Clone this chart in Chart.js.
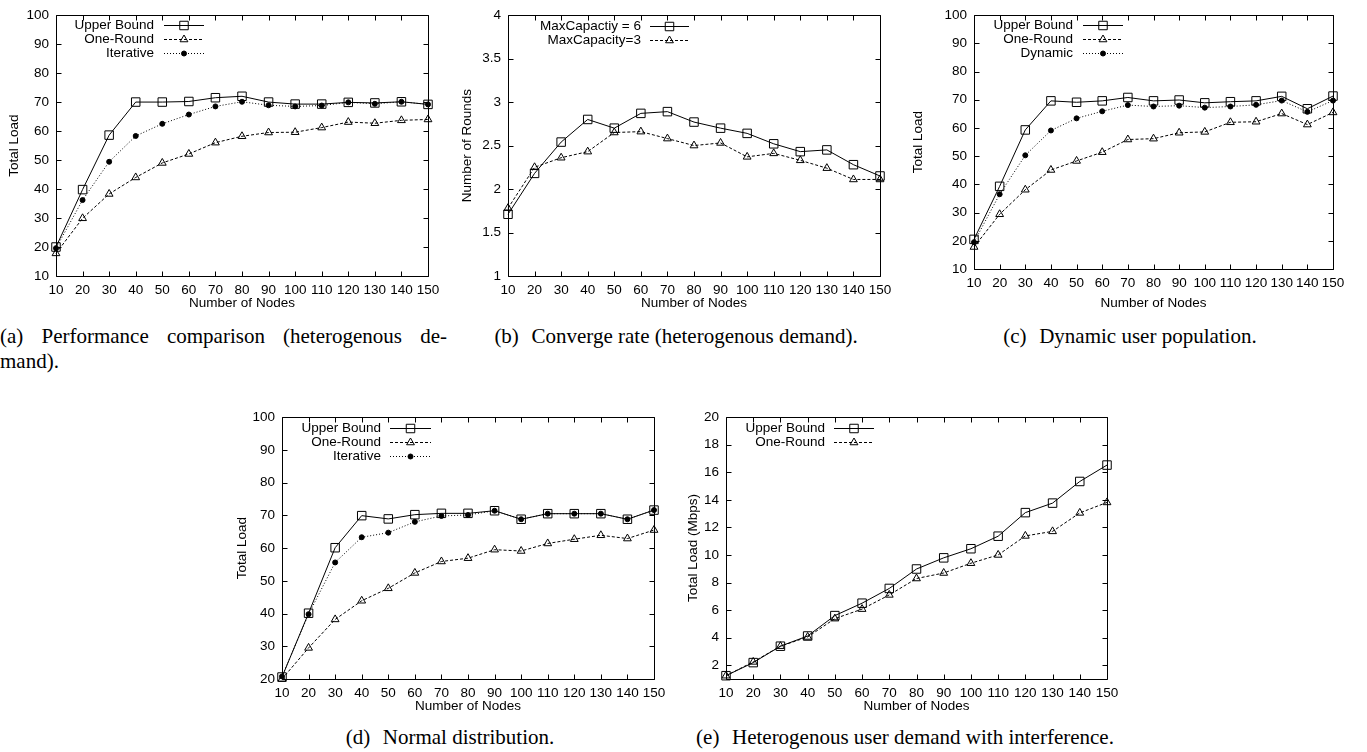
<!DOCTYPE html>
<html>
<head>
<meta charset="utf-8">
<script src="https://cdn.jsdelivr.net/npm/chart.js@4.4.0/dist/chart.umd.min.js"></script>
<style>
  body { margin: 0; background: #fff; width: 1367px; height: 752px; position: relative; overflow: hidden; }
  .plot { position: absolute; }
  .cap { position: absolute; font-family: "Liberation Serif", "Times New Roman", serif; font-size: 21px; line-height: 25px; color: #000; }
  .tag { margin-right: 0.35em; }
</style>
</head>
<body>
<div class="plot" style="left:6px;top:0px;width:442px;height:311px"><canvas id="chartA"></canvas></div>
<div class="plot" style="left:459px;top:0px;width:441px;height:311px"><canvas id="chartB"></canvas></div>
<div class="plot" style="left:910px;top:0px;width:443px;height:311px"><canvas id="chartC"></canvas></div>
<div class="plot" style="left:234px;top:402px;width:440px;height:312px"><canvas id="chartD"></canvas></div>
<div class="plot" style="left:685px;top:402px;width:442px;height:312px"><canvas id="chartE"></canvas></div>

<div class="cap" style="left:0px;top:324px;width:447px;text-align:justify;text-align-last:justify">(a) Performance comparison (heterogenous de-</div>
<div class="cap" style="left:0px;top:349px">mand).</div>
<div class="cap" style="left:426px;top:324px;width:500px;text-align:center"><span class="tag">(b)</span> Converge rate (heterogenous demand).</div>
<div class="cap" style="left:880px;top:324px;width:500px;text-align:center"><span class="tag">(c)</span> Dynamic user population.</div>
<div class="cap" style="left:200px;top:725px;width:500px;text-align:center"><span class="tag">(d)</span> Normal distribution.</div>
<div class="cap" style="left:655px;top:725px;width:500px;text-align:center"><span class="tag">(e)</span> Heterogenous user demand with interference.</div>

<script>
'use strict';

// x categories shared by all five panels
const nodes = ['10', '20', '30', '40', '50', '60', '70', '80', '90', '100', '110', '120', '130', '140', '150'];

// (a) performance comparison
const aUpper     = [20, 39.8, 58.6, 70, 70, 70.2, 71.5, 72, 70, 69.3, 69.3, 69.9, 69.7, 70.1, 69.2];
const aOneRound  = [17.8, 29.9, 38.3, 44, 49, 52.1, 56, 58.2, 59.5, 59.6, 61.2, 63.1, 62.7, 63.7, 64];
const aIterative = [19.6, 36.2, 49.4, 58.3, 62.5, 65.7, 68.5, 70.1, 68.9, 68.5, 68.8, 69.9, 69.4, 70.1, 69.2];

// (b) converge rate
const bCap6 = [1.71, 2.18, 2.54, 2.8, 2.7, 2.87, 2.89, 2.77, 2.7, 2.64, 2.52, 2.43, 2.45, 2.28, 2.15];
const bCap3 = [1.78, 2.25, 2.36, 2.43, 2.65, 2.66, 2.58, 2.5, 2.53, 2.37, 2.41, 2.33, 2.24, 2.11, 2.11];

// (c) dynamic user population
const cUpper    = [20.5, 39.3, 59.3, 69.6, 69.1, 69.6, 70.8, 69.6, 69.9, 68.9, 69.3, 69.6, 71.2, 66.8, 71.3];
const cOneRound = [17.8, 29.4, 38.1, 45.1, 48.3, 51.4, 55.9, 56.2, 58.3, 58.6, 62, 62.2, 65.1, 61.2, 65.5];
const cDynamic  = [19.5, 36.5, 50.3, 59.1, 63.4, 65.9, 68.1, 67.6, 67.9, 67.2, 67.6, 68.2, 69.7, 65.7, 69.7];

// (d) normal distribution
const dUpper     = [20.6, 40.1, 60.1, 69.9, 68.9, 70.2, 70.6, 70.6, 71.4, 68.8, 70.5, 70.5, 70.5, 68.8, 71.6];
const dOneRound  = [20, 29.5, 38.2, 43.9, 47.7, 52.4, 55.9, 56.9, 59.5, 59.1, 61.4, 62.7, 63.9, 62.9, 65.5];
const dIterative = [20.8, 39.8, 55.6, 63.3, 64.7, 68, 69.8, 70.1, 71.4, 68.8, 70.5, 70.5, 70.5, 68.8, 71.6];

// (e) heterogenous demand with interference
const eUpper    = [1.24, 2.19, 3.38, 4.12, 5.6, 6.5, 7.57, 8.98, 9.79, 10.45, 11.36, 13.07, 13.76, 15.33, 16.52];
const eOneRound = [1.24, 2.24, 3.38, 4.05, 5.38, 6.07, 7.1, 8.29, 8.69, 9.4, 10, 11.38, 11.71, 13.05, 13.81];

// y tick labels
const ticksLoad   = [10, 20, 30, 40, 50, 60, 70, 80, 90, 100];
const ticksRounds = [1, 1.5, 2, 2.5, 3, 3.5, 4];
const ticksLoadD  = [20, 30, 40, 50, 60, 70, 80, 90, 100];
const ticksMbps   = [2, 4, 6, 8, 10, 12, 14, 16, 18, 20];

Chart.defaults.font.family = '"Liberation Sans", Arial, sans-serif';
Chart.defaults.font.size   = 13.5;
Chart.defaults.color       = '#000';

// gnuplot-like line/point styles
var solidSquare  = { borderDash: [],     pointStyle: 'rect',     pointRadius: 6,   pointBackgroundColor: 'rgba(0,0,0,0)' };
var dashTriangle = { borderDash: [3, 2], pointStyle: 'triangle', pointRadius: 4.5, pointBackgroundColor: 'rgba(0,0,0,0)' };
var dotCircle    = { borderDash: [1, 2], pointStyle: 'circle',   pointRadius: 2.5, pointBackgroundColor: '#000' };

function series(label, values, style) {
  return {
    label               : label,
    data                : values,
    borderColor         : '#000',
    borderWidth         : 1,
    borderDash          : style.borderDash,
    pointStyle          : style.pointStyle,
    pointRadius         : style.pointRadius,
    pointBorderColor    : '#000',
    pointBorderWidth    : 1,
    pointBackgroundColor: style.pointBackgroundColor,
    tension             : 0,
    fill                : false,
    clip                : false
  };
}

// border box with inward ticks on all four sides
var frameBox = {
  id: 'frameBox',
  beforeDatasetsDraw: function (chart) {
    var ctx = chart.ctx, a = chart.chartArea, xs = chart.scales.x, ys = chart.scales.y, t = 5;
    var l = Math.round(a.left) + 0.5, r = Math.round(a.right) + 0.5;
    var top = Math.round(a.top) + 0.5, bot = Math.round(a.bottom) + 0.5;
    ctx.save();
    ctx.strokeStyle = '#000';
    ctx.lineWidth = 1;
    ctx.beginPath();
    ys.ticks.forEach(function (tk) {
      var py = Math.round(ys.getPixelForValue(tk.value)) + 0.5;
      ctx.moveTo(l, py); ctx.lineTo(l + t, py);
      ctx.moveTo(r, py); ctx.lineTo(r - t, py);
    });
    xs.ticks.forEach(function (tk, i) {
      var px = Math.round(xs.getPixelForTick(i)) + 0.5;
      ctx.moveTo(px, bot); ctx.lineTo(px, bot - t);
      ctx.moveTo(px, top); ctx.lineTo(px, top + t);
    });
    ctx.rect(l, top, r - l, bot - top);
    ctx.stroke();
    ctx.restore();
  }
};

// key drawn inside the plot, text right-aligned then a line sample with its marker
var insideKey = {
  id: 'insideKey',
  afterDatasetsDraw: function (chart, args, opts) {
    var ctx = chart.ctx, a = chart.chartArea;
    ctx.save();
    ctx.font = '13.5px "Liberation Sans", Arial, sans-serif';
    ctx.textAlign = 'right';
    ctx.textBaseline = 'middle';
    chart.data.datasets.forEach(function (ds, i) {
      var y = Math.round(a.top + opts.top + i * opts.gap) + 0.5;
      ctx.fillStyle = '#000';
      ctx.fillText(ds.label, a.left + opts.textRight, y);
      ctx.strokeStyle = '#000';
      ctx.lineWidth = 1;
      ctx.setLineDash(ds.borderDash);
      ctx.beginPath();
      ctx.moveTo(a.left + opts.lineStart, y);
      ctx.lineTo(a.left + opts.lineEnd, y);
      ctx.stroke();
      ctx.setLineDash([]);
      ctx.fillStyle = ds.pointBackgroundColor;
      Chart.helpers.drawPoint(ctx, { pointStyle: ds.pointStyle, radius: ds.pointRadius, rotation: 0, borderWidth: 1 },
        a.left + (opts.lineStart + opts.lineEnd) / 2, y);
    });
    ctx.restore();
  }
};

function makeChart(id, cfg) {
  return new Chart(document.getElementById(id), {
    type: 'line',
    data: { labels: nodes, datasets: cfg.datasets },
    plugins: [frameBox, insideKey],
    options: {
      responsive         : true,
      maintainAspectRatio: false,
      animation          : false,
      layout             : { padding: { top: 11, right: 20, left: 0, bottom: 0 } },
      plugins: {
        legend   : { display: false },
        tooltip  : { enabled: false },
        insideKey: cfg.key
      },
      scales: {
        x: {
          type  : 'category',
          offset: false,
          grid  : { display: false, drawTicks: false },
          border: { display: false },
          ticks : { autoSkip: false, maxRotation: 0, padding: 6 },
          title : { display: true, text: 'Number of Nodes', padding: 0 },
          afterFit: function (s) { s.height = cfg.xHeight; }
        },
        y: {
          min   : cfg.yMin,
          max   : cfg.yMax,
          grid  : { display: false, drawTicks: false },
          border: { display: false },
          ticks : { padding: 7, callback: function (v) { return String(v); } },
          title : { display: true, text: cfg.yTitle, padding: 0 },
          afterBuildTicks: function (s) { s.ticks = cfg.yTicks.map(function (v) { return { value: v }; }); },
          afterFit: function (s) { s.width = cfg.yWidth; }
        }
      }
    }
  });
}

makeChart('chartA', {
  datasets: [
    series('Upper Bound', aUpper, solidSquare),
    series('One-Round', aOneRound, dashTriangle),
    series('Iterative', aIterative, dotCircle)
  ],
  yMin: 10, yMax: 100, yTicks: ticksLoad, yTitle: 'Total Load',
  yWidth: 50, xHeight: 35,
  key: { textRight: 98, lineStart: 108, lineEnd: 148, top: 10, gap: 14 }
});

makeChart('chartB', {
  datasets: [
    series('MaxCapactiy = 6', bCap6, solidSquare),
    series('MaxCapacity=3', bCap3, dashTriangle)
  ],
  yMin: 1, yMax: 4, yTicks: ticksRounds, yTitle: 'Number of Rounds',
  yWidth: 49, xHeight: 35,
  key: { textRight: 133, lineStart: 142, lineEnd: 181, top: 11, gap: 13.5 }
});

makeChart('chartC', {
  datasets: [
    series('Upper Bound', cUpper, solidSquare),
    series('One-Round', cOneRound, dashTriangle),
    series('Dynamic', cDynamic, dotCircle)
  ],
  yMin: 10, yMax: 100, yTicks: ticksLoad, yTitle: 'Total Load',
  yWidth: 64, xHeight: 42,
  key: { textRight: 99, lineStart: 109, lineEnd: 149, top: 10, gap: 14 }
});

makeChart('chartD', {
  datasets: [
    series('Upper Bound', dUpper, solidSquare),
    series('One-Round', dOneRound, dashTriangle),
    series('Iterative', dIterative, dotCircle)
  ],
  yMin: 20, yMax: 100, yTicks: ticksLoadD, yTitle: 'Total Load',
  yWidth: 48, xHeight: 35,
  key: { textRight: 99, lineStart: 108, lineEnd: 149, top: 11, gap: 14 }
});

makeChart('chartE', {
  datasets: [
    series('Upper Bound', eUpper, solidSquare),
    series('One-Round', eOneRound, dashTriangle)
  ],
  yMin: 1, yMax: 20, yTicks: ticksMbps, yTitle: 'Total Load (Mbps)',
  yWidth: 41, xHeight: 35,
  key: { textRight: 99, lineStart: 108, lineEnd: 148, top: 11, gap: 14 }
});
</script>
</body>
</html>
